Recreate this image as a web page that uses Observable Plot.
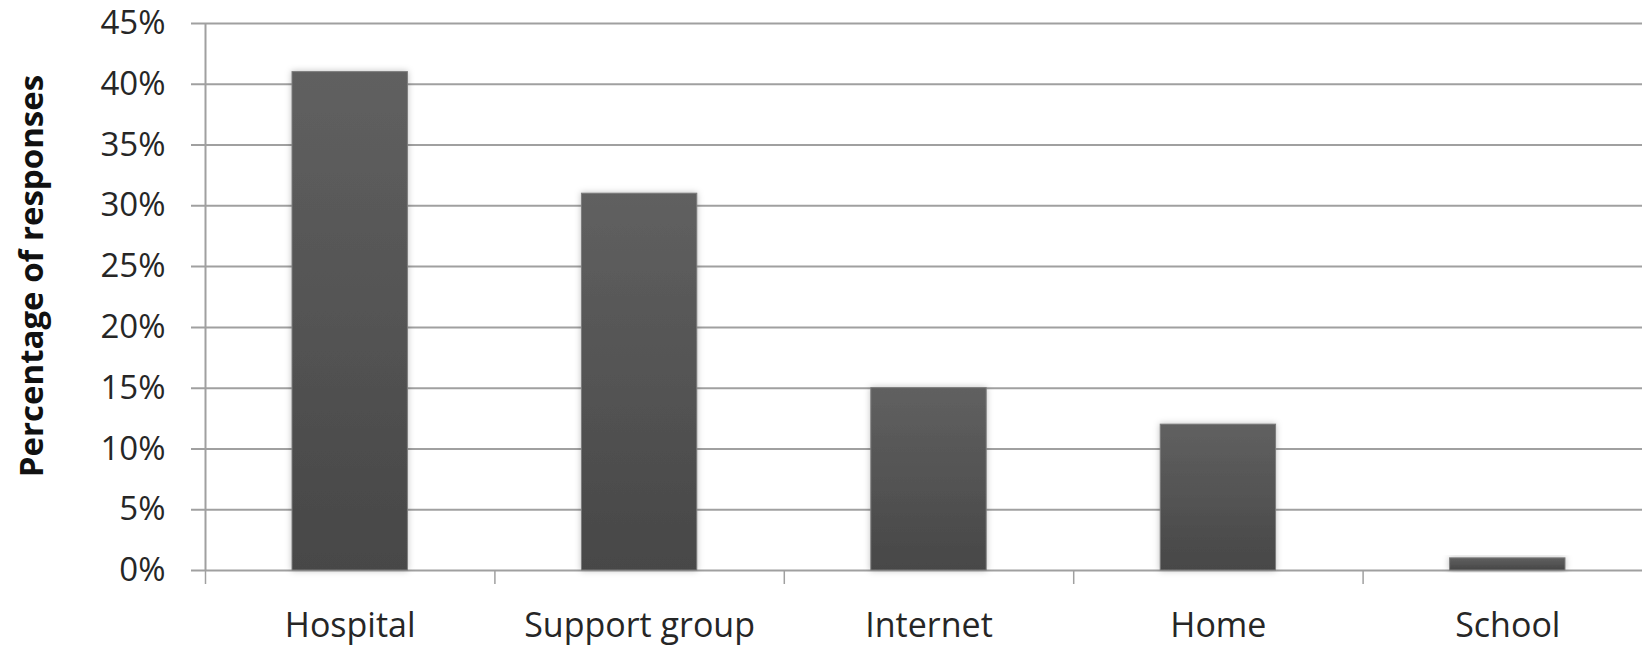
<!DOCTYPE html>
<html>
<head>
<meta charset="utf-8">
<script src="https://cdn.jsdelivr.net/npm/d3@7"></script>
<script src="https://cdn.jsdelivr.net/npm/@observablehq/plot@0.6"></script>
<style>
  html, body { margin: 0; padding: 0; background: #fff; }
  #chart svg { display: block; }
</style>
</head>
<body>
<div id="chart"></div>
<script>
const categories = ["Hospital", "Support group", "Internet", "Home", "School"];
const values = [0.41, 0.31, 0.15, 0.12, 0.01];
const yTicks = [0, 0.05, 0.10, 0.15, 0.20, 0.25, 0.30, 0.35, 0.40, 0.45];
const yTitle = "Percentage of responses";

const data = categories.map((c, i) => ({category: c, index: i, value: values[i]}));
const boundaries = categories.map((c, i) => i);
const centers = categories.map((c, i) => i + 0.5);

const gridColor = "#a0a0a0";
const textColor = "#262626";

const chart = Plot.plot({
  width: 1642,
  height: 646,
  marginTop: 23,
  marginBottom: 76,
  marginLeft: 191,
  marginRight: 0,
  style: {fontFamily: "'Open Sans', sans-serif", fontSize: "32px", color: textColor, background: "#fff"},
  x: {type: "linear", domain: [0, categories.length], range: [205, 1652]},
  y: {domain: [0, 0.45]},
  marks: [
    Plot.ruleY(yTicks, {stroke: gridColor, strokeWidth: 2}),
    Plot.ruleX([0], {stroke: gridColor, strokeWidth: 2}),
    Plot.axisX({ticks: boundaries, tickSize: 14, tickFormat: () => "", stroke: gridColor, strokeWidth: 1.5, strokeOpacity: 1, label: null}),
    Plot.axisX({ticks: centers, tickSize: 0, tickPadding: 42, tickFormat: d => categories[Math.floor(d)], fill: textColor, fontSize: 34, label: null}),
    Plot.axisY({ticks: yTicks, tickSize: 0, tickPadding: 26, tickFormat: d3.format(".0%"), fill: textColor, fontSize: 33, label: null}),
    Plot.rectY(data, {
      x1: "index",
      x2: d => d.index + 1,
      y: "value",
      insetLeft: 87,
      insetRight: 87,
      fill: "url(#barGrad)",
      stroke: "#7c7c7c",
      strokeWidth: 1,
      className: "bars"
    }),
    Plot.text([yTitle], {
      frameAnchor: "left",
      textAnchor: "middle",
      lineAnchor: "middle",
      rotate: -90,
      dx: -159,
      dy: -21,
      fontWeight: "bold",
      fontSize: 33,
      fill: "#111"
    })
  ]
});

const defs = d3.select(chart).insert("defs", ":first-child");
const grad = defs.append("linearGradient").attr("id", "barGrad").attr("x1", 0).attr("y1", 0).attr("x2", 0).attr("y2", 1);
grad.append("stop").attr("offset", "0%").attr("stop-color", "#606060");
grad.append("stop").attr("offset", "100%").attr("stop-color", "#474747");
const filt = defs.append("filter").attr("id", "barShadow").attr("x", "-20%").attr("y", "-20%").attr("width", "140%").attr("height", "140%");
filt.append("feDropShadow").attr("dx", 0).attr("dy", 0).attr("stdDeviation", 3).attr("flood-color", "#000").attr("flood-opacity", 0.25);
d3.select(chart).selectAll(".bars rect").attr("filter", "url(#barShadow)");

document.getElementById("chart").appendChild(chart);
</script>
</body>
</html>
